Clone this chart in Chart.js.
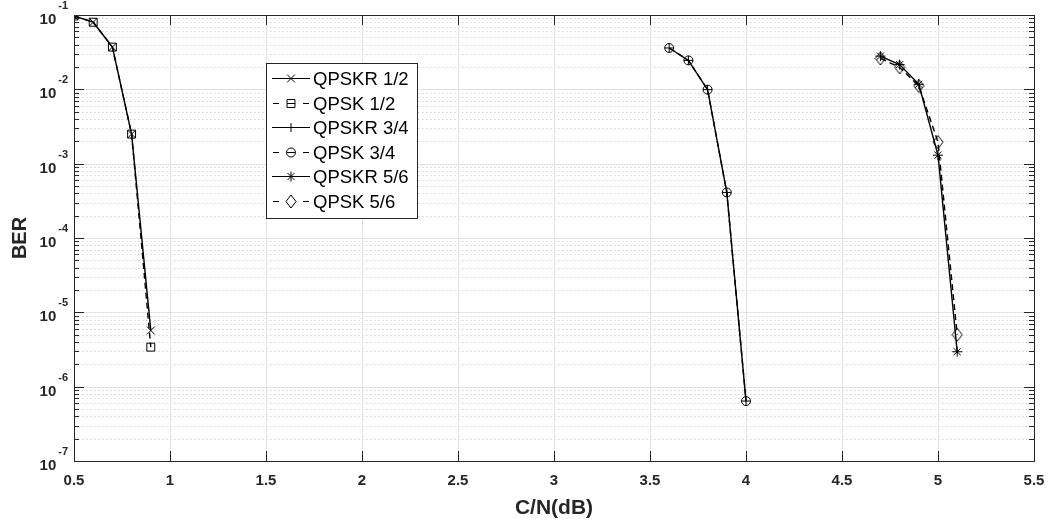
<!DOCTYPE html>
<html>
<head>
<meta charset="utf-8">
<script src="https://cdn.jsdelivr.net/npm/chart.js@4.4.0/dist/chart.umd.min.js"></script>
<style>
  body { margin: 0; background: #fff; }
</style>
</head>
<body>
<canvas id="ber-chart" width="1049" height="519"></canvas>
<script>
// C/N points (dB) for each code rate
const snr12 = [0.5, 0.6, 0.7, 0.8, 0.9];
const snr34 = [3.6, 3.7, 3.8, 3.9, 4.0];
const snr56 = [4.7, 4.8, 4.9, 5.0, 5.1];

// BER values
const berQpskr12 = [0.097, 0.080, 0.037, 0.0025, 5.7e-6];
const berQpsk12 = [0.097, 0.080, 0.037, 0.0025, 3.4e-6];
const berQpskr34 = [0.036, 0.0245, 0.0099, 4.1e-4, 6.4e-7];
const berQpsk34 = [0.036, 0.0245, 0.0099, 4.1e-4, 6.4e-7];
const berQpskr56 = [0.028, 0.0215, 0.0117, 1.3e-3, 2.95e-6];
const berQpsk56 = [0.026, 0.0198, 0.0111, 1.95e-3, 5.0e-6];

const seriesNames = ["QPSKR 1/2", "QPSK 1/2", "QPSKR 3/4", "QPSK 3/4", "QPSKR 5/6", "QPSK 5/6"];

const xTicks = [0.5, 1, 1.5, 2, 2.5, 3, 3.5, 4, 4.5, 5, 5.5];
const xTickLabels = ["0.5", "1", "1.5", "2", "2.5", "3", "3.5", "4", "4.5", "5", "5.5"];
const yDecades = [-7, -6, -5, -4, -3, -2, -1];

const FONT = "'Liberation Sans', Arial, sans-serif";
const INK = "#262626";

// matlab style diamond, a bit taller than wide
function diamondMarker() {
    const c = document.createElement("canvas");
    c.width = 12;
    c.height = 15;
    const g = c.getContext("2d");
    g.strokeStyle = "#000";
    g.lineWidth = 1;
    g.beginPath();
    g.moveTo(6, 1);
    g.lineTo(11, 7.5);
    g.lineTo(6, 14);
    g.lineTo(1, 7.5);
    g.closePath();
    g.stroke();
    return c;
}

function points(xs, ys) {
    return xs.map((x, i) => ({ x: x, y: ys[i] }));
}

function series(i, xs, ys, dashed, style, radius) {
    return {
        label: seriesNames[i],
        data: points(xs, ys),
        showLine: true,
        borderColor: "#000",
        backgroundColor: "rgba(0,0,0,0)",
        borderWidth: 1.4,
        borderDash: dashed ? [6, 4] : [],
        pointStyle: style,
        pointRadius: radius,
        pointBorderWidth: 1,
        pointBorderColor: "#000",
        pointBackgroundColor: "rgba(0,0,0,0)"
    };
}

const diamond = diamondMarker();

const matlabAxes = {
    id: "matlabAxes",
    beforeDatasetsDraw(chart) {
        const ctx = chart.ctx;
        const a = chart.chartArea;
        const x = chart.scales.x;
        const y = chart.scales.y;
        ctx.save();
        ctx.lineWidth = 1;

        // minor grid, dotted
        ctx.strokeStyle = "#d2d2d2";
        ctx.setLineDash([1.5, 2.5]);
        yDecades.slice(0, -1).forEach(d => {
            for (let k = 2; k <= 9; k++) {
                const py = Math.round(y.getPixelForValue(k * Math.pow(10, d))) + 0.5;
                ctx.beginPath();
                ctx.moveTo(a.left, py);
                ctx.lineTo(a.right, py);
                ctx.stroke();
            }
        });

        // major grid
        ctx.setLineDash([]);
        ctx.strokeStyle = "#e2e2e2";
        yDecades.forEach(d => {
            const py = Math.round(y.getPixelForValue(Math.pow(10, d))) + 0.5;
            ctx.beginPath();
            ctx.moveTo(a.left, py);
            ctx.lineTo(a.right, py);
            ctx.stroke();
        });
        xTicks.forEach(v => {
            const px = Math.round(x.getPixelForValue(v)) + 0.5;
            ctx.beginPath();
            ctx.moveTo(px, a.top);
            ctx.lineTo(px, a.bottom);
            ctx.stroke();
        });
        ctx.restore();
    },
    afterDraw(chart) {
        const ctx = chart.ctx;
        const a = chart.chartArea;
        const x = chart.scales.x;
        const y = chart.scales.y;
        ctx.save();
        ctx.strokeStyle = INK;
        ctx.fillStyle = INK;
        ctx.lineWidth = 1;

        // ticks, inward on all four sides
        ctx.beginPath();
        xTicks.forEach(v => {
            const px = Math.round(x.getPixelForValue(v)) + 0.5;
            ctx.moveTo(px, a.bottom);
            ctx.lineTo(px, a.bottom - 10);
            ctx.moveTo(px, a.top);
            ctx.lineTo(px, a.top + 10);
        });
        yDecades.forEach(d => {
            const py = Math.round(y.getPixelForValue(Math.pow(10, d))) + 0.5;
            ctx.moveTo(a.left, py);
            ctx.lineTo(a.left + 10, py);
            ctx.moveTo(a.right, py);
            ctx.lineTo(a.right - 10, py);
            if (d === -1) return;
            for (let k = 2; k <= 9; k++) {
                const pm = Math.round(y.getPixelForValue(k * Math.pow(10, d))) + 0.5;
                ctx.moveTo(a.left, pm);
                ctx.lineTo(a.left + 5, pm);
                ctx.moveTo(a.right, pm);
                ctx.lineTo(a.right - 5, pm);
            }
        });
        ctx.stroke();

        // box
        ctx.strokeRect(Math.round(a.left) + 0.5, Math.round(a.top) + 0.5,
            Math.round(a.right - a.left), Math.round(a.bottom - a.top));

        // x tick labels
        ctx.font = "bold 15px " + FONT;
        ctx.textAlign = "center";
        ctx.textBaseline = "alphabetic";
        xTicks.forEach((v, i) => {
            ctx.fillText(xTickLabels[i], x.getPixelForValue(v), a.bottom + 24);
        });

        // y tick labels 10^n
        yDecades.forEach(d => {
            const py = y.getPixelForValue(Math.pow(10, d));
            const sup = String(d);
            ctx.font = "bold 11px " + FONT;
            const supW = ctx.measureText(sup).width;
            ctx.textAlign = "left";
            ctx.fillText(sup, 68 - supW, py - 6);
            ctx.font = "bold 15px " + FONT;
            ctx.textAlign = "right";
            ctx.fillText("10", 68 - supW - 2, py + 9);
        });

        // axis titles
        ctx.font = "bold 21px " + FONT;
        ctx.textAlign = "center";
        ctx.fillText("C/N(dB)", (a.left + a.right) / 2, 514);
        ctx.save();
        ctx.translate(26, (a.top + a.bottom) / 2);
        ctx.rotate(-Math.PI / 2);
        ctx.font = "bold 20px " + FONT;
        ctx.fillText("BER", 0, 0);
        ctx.restore();

        // legend box
        const lg = { left: 266, top: 63, right: 417, bottom: 218 };
        ctx.fillStyle = "#fff";
        ctx.fillRect(lg.left, lg.top, lg.right - lg.left, lg.bottom - lg.top);
        ctx.strokeStyle = INK;
        ctx.strokeRect(lg.left + 0.5, lg.top + 0.5, lg.right - lg.left, lg.bottom - lg.top);

        chart.data.datasets.forEach((ds, i) => {
            const ry = Math.round(78 + i * 24.6) + 0.5;
            ctx.strokeStyle = "#000";
            ctx.lineWidth = 1.2;
            ctx.beginPath();
            if (ds.borderDash.length) {
                ctx.moveTo(273, ry);
                ctx.lineTo(279, ry);
                ctx.moveTo(303, ry);
                ctx.lineTo(309, ry);
                if (ds.pointStyle !== diamond) {
                    ctx.moveTo(287, ry);
                    ctx.lineTo(295, ry);
                }
            } else {
                ctx.moveTo(272, ry);
                ctx.lineTo(310, ry);
            }
            ctx.stroke();
            ctx.lineWidth = 1;
            ctx.fillStyle = "rgba(0,0,0,0)";
            Chart.helpers.drawPoint(ctx, {
                pointStyle: ds.pointStyle,
                radius: ds.pointRadius,
                rotation: 0,
                borderWidth: 1
            }, 291, ry);
            ctx.fillStyle = "#000";
            ctx.font = "18.5px " + FONT;
            ctx.textAlign = "left";
            ctx.textBaseline = "middle";
            ctx.fillText(ds.label, 313, ry + 1);
            ctx.textBaseline = "alphabetic";
        });
        ctx.restore();
    }
};

const ctx = document.getElementById("ber-chart");

const chartOptions = {
    responsive: false,
    animation: false,
    layout: {
        padding: { top: 15, right: 15, left: 0, bottom: 0 }
    },
    plugins: {
        legend: { display: false },
        tooltip: { enabled: false },
        title: { display: false }
    },
    scales: {
        x: {
            type: "linear",
            min: 0.5,
            max: 5.5,
            grid: { display: false },
            border: { display: false },
            ticks: { display: false },
            afterFit(scale) { scale.height = 58; }
        },
        y: {
            type: "logarithmic",
            min: 1e-7,
            max: 1e-1,
            grid: { display: false },
            border: { display: false },
            ticks: { display: false },
            afterFit(scale) { scale.width = 74; }
        }
    }
};

const chartData = {
    datasets: [
        series(0, snr12, berQpskr12, false, "crossRot", 5.5),
        series(1, snr12, berQpsk12, true, "rect", 5.6),
        series(2, snr34, berQpskr34, false, "cross", 4.5),
        series(3, snr34, berQpsk34, true, "circle", 4.5),
        series(4, snr56, berQpskr56, false, "star", 5),
        series(5, snr56, berQpsk56, true, diamond, 6)
    ]
};

const config = {
    type: "scatter",
    data: chartData,
    options: chartOptions,
    plugins: [matlabAxes]
};

new Chart(ctx, config);
</script>
</body>
</html>
